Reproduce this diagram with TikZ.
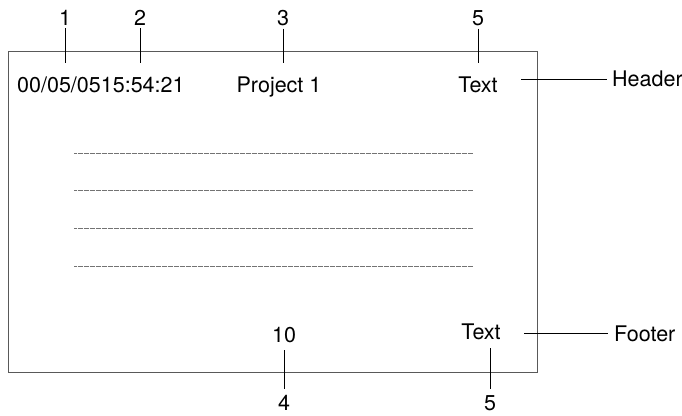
\documentclass[tikz,border=0pt]{standalone}
\usepackage{fontspec}
\setmainfont{TeX Gyre Heros}
\begin{document}
\begin{tikzpicture}[x=1pt,y=-1pt,
  every node/.style={font=\fontsize{21.5}{25}\selectfont, inner sep=0pt},
  frame/.style={draw=black!65, line width=0.9pt},
  rule/.style={draw=black!55, line width=0.5pt, dash pattern=on 0.7pt off 0.5pt},
  lead/.style={draw=black, line width=0.9pt}]
\useasboundingbox (0,0) rectangle (682,415);
% page frame
\node[frame, minimum width=529pt, minimum height=321pt] (page) at (272.5,211.5) {};
% dotted text lines
\coordinate (r1a) at (74,153); \coordinate (r1b) at (473,153);
\coordinate (r2a) at (74,190); \coordinate (r2b) at (473,190);
\coordinate (r3a) at (74,228); \coordinate (r3b) at (473,228);
\coordinate (r4a) at (74,266); \coordinate (r4b) at (473,266);
\draw[rule] (r1a) -- (r1b);
\draw[rule] (r2a) -- (r2b);
\draw[rule] (r3a) -- (r3b);
\draw[rule] (r4a) -- (r4b);
% header contents
\node[anchor=base west] (date) at (17,92) {00/05/0515:54:21};
\node[anchor=base] (proj) at (279,92) {Project 1};
\node[anchor=base] (htext) at (478,92) {Text};
\node[anchor=base west] (hlbl) at (612,86) {Header};
% footer contents
\node[anchor=base] (pnum) at (284,342) {10};
\node[anchor=base] (ftext) at (481,339) {Text};
\node[anchor=base west] (flbl) at (614,341) {Footer};
% number labels
\node[anchor=base] (n1) at (65,25) {1};
\node[anchor=base] (n2) at (140,25) {2};
\node[anchor=base] (n3) at (283,25) {3};
\node[anchor=base] (n5) at (478,25) {5};
\node[anchor=base] (n4) at (284,410) {4};
\node[anchor=base] (n5b) at (490,410) {5};
% leader end points
\coordinate (t1) at (65,63);
\coordinate (t2) at (140,63);
\coordinate (t3) at (283,63);
\coordinate (t5) at (478,63);
\coordinate (t4) at (284,350);
\coordinate (t5b) at (490,348);
\coordinate (hs) at (521,79);
\coordinate (fs) at (524,333);
% leaders
\draw[lead] ([yshift=-3pt]n1.south) -- (t1);
\draw[lead] ([yshift=-3pt]n2.south) -- (t2);
\draw[lead] ([yshift=-3pt]n3.south) -- (t3);
\draw[lead] ([yshift=-3pt]n5.south) -- (t5);
\draw[lead] ([yshift=6pt]n4.north) -- (t4);
\draw[lead] ([yshift=6pt]n5b.north) -- (t5b);
\draw[lead] (hs) -- ([xshift=-5pt]hs -| hlbl.west);
\draw[lead] (fs) -- ([xshift=-6pt]fs -| flbl.west);
\end{tikzpicture}
\end{document}
